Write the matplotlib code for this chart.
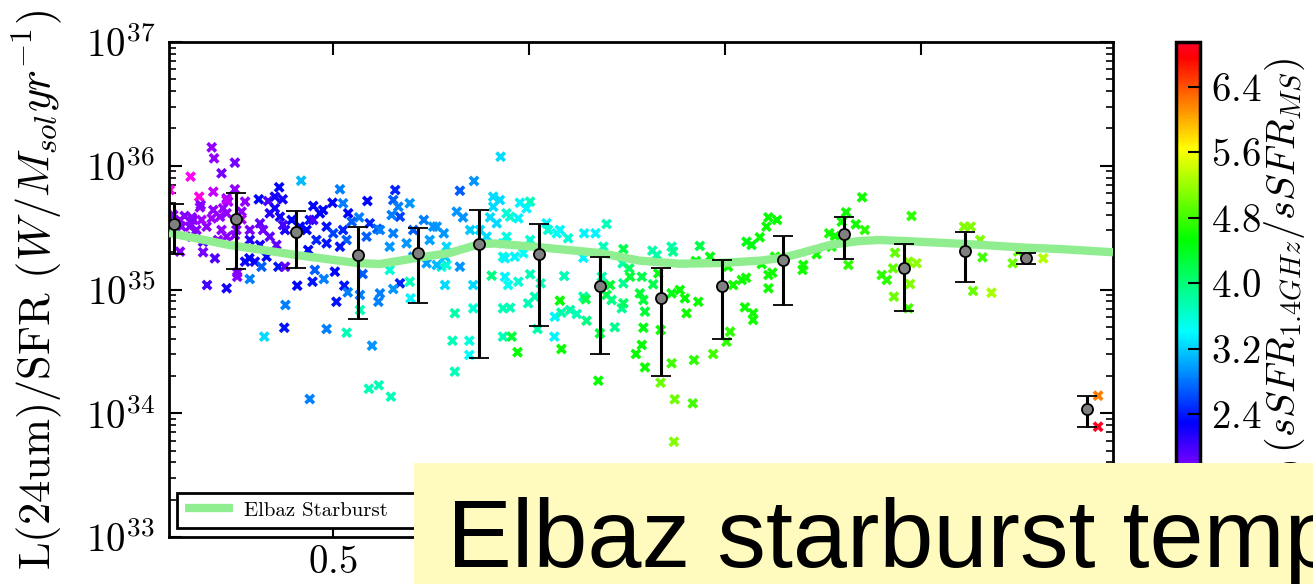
import numpy as np
import matplotlib
matplotlib.use("Agg")
import matplotlib.pyplot as plt
from matplotlib.patches import Rectangle
from matplotlib.ticker import MultipleLocator

plt.rcParams.update({
    "font.family": "serif",
    "font.serif": ["cmr10"],
    "mathtext.fontset": "cm",
    "axes.formatter.use_mathtext": True,
    "axes.unicode_minus": False,
})

# individual galaxies: redshift, log10 L(24um)/SFR, colour value
gal_z = [
    0.191, 0.197, 0.250, 0.216, 0.137, 0.084, 0.195, 0.159, 0.250, 0.229,
    0.419, 0.363, 0.518, 0.659, 0.928, 0.860, 0.824, 0.311, 0.335, 0.352,
    0.372, 0.450, 0.499, 0.475, 0.588, 0.567, 0.594, 0.613, 0.654, 0.667,
    0.696, 0.671, 0.732, 0.765, 0.783, 0.816, 0.832, 0.901, 0.909, 0.926,
    0.943, 0.790, 0.824, 0.790, 0.777, 0.786, 0.858, 0.905, 0.858, 0.811,
    0.805, 0.848, 0.848, 0.811, 0.934, 0.934, 0.696, 0.698, 0.671, 0.654,
    0.645, 0.620, 0.616, 0.576, 0.569, 0.569, 0.535, 0.600, 0.484, 0.509,
    0.529, 0.505, 0.448, 0.477, 0.409, 0.379, 0.376, 0.325, 0.288, 0.229,
    0.179, 0.256, 0.256, 0.169, 0.199, 0.110, 0.276, 0.301, 0.331, 0.318,
    0.361, 0.378, 0.437, 0.454, 0.122, 0.140, 0.161, 0.195, 0.220, 0.212,
    0.233, 0.276, 0.267, 0.229, 0.191, 0.178, 0.152, 0.135, 0.216, 0.229,
    0.207, 0.140, 0.169, 0.267, 0.254, 0.288, 0.288, 0.314, 0.322, 0.339,
    0.352, 0.365, 0.339, 0.356, 0.378, 0.395, 0.373, 0.314, 0.144, 0.110,
    0.093, 0.114, 0.250, 0.165, 0.416, 0.433, 0.441, 0.458, 0.484, 0.501,
    0.526, 0.535, 0.484, 0.518, 0.450, 0.467, 0.548, 0.586, 0.620, 0.645,
    0.654, 0.688, 0.705, 0.756, 0.747, 0.705, 0.765, 0.739, 0.786, 0.850,
    0.875, 0.892, 0.918, 0.934, 0.934, 0.909, 0.977, 1.003, 0.994, 0.973,
    0.952, 0.943, 1.003, 0.986, 0.964, 0.939, 1.003, 1.030, 1.015, 0.998,
    0.952, 0.973, 0.947, 0.939, 0.956, 0.971, 1.022, 1.045, 1.049, 1.079,
    1.100, 1.071, 1.090, 1.066, 1.065, 1.083, 1.105, 1.122, 1.079, 1.083,
    1.139, 1.145, 1.147, 1.141, 1.170, 1.198, 1.139, 1.190, 1.186, 1.207,
    1.198, 1.211, 1.181, 1.177, 1.219, 1.237, 1.241, 1.241, 1.239, 1.241,
    1.256, 1.258, 1.288, 1.283, 1.292, 1.296, 1.292, 1.288, 1.273, 1.296,
    1.315, 1.326, 1.364, 1.368, 1.317, 1.330, 1.336, 1.336, 1.364, 1.372,
    1.418, 1.370, 1.421, 1.436, 1.426, 1.364, 1.385, 1.398, 1.402, 1.432,
    1.470, 1.462, 1.508, 1.521, 1.543, 1.554, 1.551, 1.572, 1.572, 1.513,
    1.504, 1.555, 1.568, 1.589, 1.606, 1.611, 1.594, 1.611, 1.611, 1.633,
    1.628, 1.621, 1.734, 1.700, 1.698, 1.766, 1.781, 1.772, 1.798, 1.809,
    1.834, 1.857, 1.815, 1.850, 1.976, 1.934, 1.900, 1.913, 1.929, 1.931,
    1.968, 1.989, 1.972, 1.968, 2.110, 2.127, 2.151, 2.157, 2.133, 2.180,
    2.234, 2.312, 2.248, 2.452, 2.452, 0.538, 0.441, 0.592, 0.617, 0.648,
    0.163, 0.229, 0.287, 0.526, 0.539, 0.650,
]
gal_logL = [
    36.149, 36.060, 36.025, 35.939, 35.912, 35.804, 35.790, 35.750, 35.810, 35.737,
    35.879, 35.826, 35.810, 35.804, 36.073, 35.877, 35.798, 35.729, 35.715, 35.750,
    35.729, 35.675, 35.701, 35.642, 35.715, 35.583, 35.535, 35.491, 35.723, 35.669,
    35.697, 35.588, 35.562, 35.508, 35.454, 35.629, 35.583, 35.583, 35.669, 35.723,
    35.616, 35.346, 35.184, 35.198, 35.184, 35.036, 35.036, 35.112, 34.848, 34.808,
    34.586, 34.586, 34.471, 34.336, 34.848, 34.619, 35.063, 34.929, 35.050, 35.004,
    35.158, 34.969, 34.901, 35.125, 34.956, 34.834, 34.651, 34.546, 34.681, 34.901,
    35.031, 35.144, 35.063, 35.085, 35.031, 34.875, 34.691, 34.619, 35.085, 35.010,
    35.036, 35.103, 35.136, 35.301, 35.252, 35.306, 35.225, 35.225, 35.265, 35.184,
    35.184, 35.184, 35.319, 35.158, 35.594, 35.583, 35.664, 35.642, 35.656, 35.588,
    35.710, 35.710, 35.629, 35.616, 35.575, 35.508, 35.481, 35.508, 35.481, 35.427,
    35.400, 35.427, 35.386, 35.567, 35.481, 35.481, 35.400, 35.535, 35.481, 35.616,
    35.656, 35.588, 35.427, 35.360, 35.481, 35.562, 35.521, 35.360, 35.562, 35.562,
    35.602, 35.508, 35.440, 35.562, 35.508, 35.481, 35.562, 35.400, 35.508, 35.454,
    35.481, 35.400, 35.373, 35.346, 35.562, 35.616, 35.548, 35.427, 35.481, 35.346,
    35.454, 35.373, 35.481, 35.508, 35.400, 35.265, 35.198, 35.212, 35.265, 35.481,
    35.481, 35.427, 35.535, 35.373, 35.265, 35.750, 35.701, 35.710, 35.656, 35.575,
    35.588, 35.427, 35.400, 35.293, 35.265, 35.252, 35.123, 35.050, 34.942, 34.889,
    34.853, 35.063, 35.036, 35.103, 34.619, 34.493, 34.681, 35.535, 35.481, 35.481,
    35.414, 35.454, 35.109, 34.780, 34.619, 34.813, 34.834, 34.802, 34.910, 34.519,
    34.942, 34.921, 34.748, 35.454, 35.454, 35.529, 35.257, 35.346, 35.103, 35.036,
    34.956, 34.915, 34.646, 34.263, 34.695, 34.848, 34.889, 35.050, 35.212, 35.327,
    35.171, 35.103, 35.103, 34.969, 34.915, 34.821, 34.691, 34.552, 34.479, 34.371,
    35.314, 35.279, 35.346, 35.306, 35.042, 35.131, 34.673, 34.247, 34.404, 34.113,
    34.080, 33.770, 34.430, 35.352, 35.230, 34.969, 34.996, 34.929, 34.808, 34.901,
    34.479, 35.265, 35.184, 35.036, 35.077, 35.095, 34.856, 34.808, 34.754, 34.659,
    34.578, 35.386, 35.360, 35.422, 35.508, 35.583, 35.206, 35.117, 35.010, 35.562,
    35.265, 35.136, 35.285, 35.198, 35.158, 35.454, 35.432, 35.346, 35.548, 35.624,
    35.527, 35.481, 35.198, 35.745, 35.594, 35.297, 35.117, 35.077, 35.171, 34.942,
    35.225, 35.212, 35.044, 34.848, 35.508, 35.508, 35.400, 35.260, 34.988, 34.974,
    35.212, 35.252, 35.306, 34.142, 33.891, 34.977, 34.115, 34.198, 34.226, 34.134,
    35.683, 35.723, 35.252, 35.697, 35.616, 35.602,
]
gal_ratio = [
    1.66, 1.66, 1.78, 1.78, 1.15, 1.10, 1.45, 1.05, 1.66, 1.66,
    3.10, 2.30, 2.84, 2.45, 3.24, 2.95, 2.70, 2.30, 1.95, 2.20,
    2.20, 2.30, 2.30, 2.30, 2.30, 2.84, 2.45, 2.70, 2.70, 2.84,
    2.95, 2.60, 2.84, 2.95, 2.95, 2.95, 2.95, 3.24, 3.24, 3.24,
    3.60, 3.24, 2.95, 3.55, 3.60, 3.24, 3.24, 3.97, 3.60, 3.80,
    3.72, 3.55, 3.45, 3.72, 3.72, 3.72, 3.72, 3.38, 2.45, 2.95,
    3.60, 2.84, 2.84, 2.70, 2.84, 3.72, 3.72, 2.95, 2.84, 2.38,
    2.38, 2.30, 2.38, 2.84, 2.30, 2.84, 2.38, 3.24, 2.84, 2.20,
    2.00, 1.72, 1.72, 1.78, 1.95, 1.72, 2.20, 2.20, 2.30, 2.70,
    2.38, 1.87, 2.30, 2.70, 1.72, 1.72, 1.66, 1.66, 1.62, 1.66,
    1.66, 1.66, 1.70, 1.66, 1.62, 1.70, 1.72, 1.72, 1.66, 1.70,
    1.72, 1.78, 1.95, 1.55, 1.72, 1.78, 2.15, 1.87, 1.78, 2.15,
    2.20, 2.20, 1.87, 1.87, 2.20, 2.30, 2.00, 2.20, 1.72, 1.66,
    1.66, 1.72, 1.72, 1.60, 2.30, 2.30, 2.38, 2.45, 2.38, 2.60,
    2.45, 2.70, 2.38, 2.38, 2.00, 2.30, 2.70, 2.70, 2.84, 2.95,
    2.84, 2.95, 2.70, 2.95, 3.00, 2.95, 3.10, 3.00, 3.18, 3.18,
    3.24, 3.24, 3.24, 3.38, 3.55, 3.24, 3.38, 3.72, 3.38, 3.38,
    3.60, 3.55, 3.60, 3.45, 3.38, 3.38, 3.72, 3.72, 3.72, 3.72,
    3.72, 3.60, 3.45, 3.38, 4.30, 4.55, 3.80, 3.38, 3.60, 3.38,
    3.60, 3.45, 3.72, 3.38, 3.38, 3.80, 3.80, 3.72, 4.55, 4.55,
    3.80, 4.20, 3.97, 3.38, 3.38, 3.72, 3.38, 3.72, 3.80, 4.30,
    4.20, 3.97, 4.30, 4.55, 3.90, 3.90, 4.10, 3.90, 3.80, 4.20,
    4.10, 4.30, 4.20, 4.30, 4.30, 4.30, 4.45, 4.55, 4.55, 4.60,
    3.80, 3.80, 3.80, 3.90, 4.20, 4.45, 4.60, 5.00, 4.80, 5.00,
    4.80, 5.10, 4.72, 4.20, 4.45, 4.45, 4.55, 4.55, 4.60, 4.55,
    4.80, 4.45, 4.60, 4.60, 4.60, 4.60, 4.60, 4.60, 4.60, 4.72,
    4.72, 4.45, 4.45, 4.55, 4.55, 4.55, 4.55, 4.60, 4.60, 4.55,
    4.60, 4.60, 4.60, 4.60, 4.60, 4.60, 4.60, 4.60, 4.60, 4.60,
    4.60, 4.72, 4.72, 4.60, 4.72, 4.95, 4.72, 4.72, 4.95, 5.00,
    5.10, 5.15, 5.10, 4.80, 5.10, 5.10, 5.10, 4.80, 5.00, 5.25,
    5.00, 5.30, 4.95, 6.20, 6.90, 2.84, 2.84, 3.72, 3.72, 3.72,
    1.72, 1.45, 2.30, 2.84, 2.30, 2.84,
]

# binned means with standard deviation (units of 1e35 W/Msol/yr)
bin_z = [0.095, 0.253, 0.407, 0.563, 0.718, 0.872, 1.026, 1.182,
         1.337, 1.492, 1.647, 1.803, 1.957, 2.113, 2.267, 2.423]
bin_mean = [3.40, 3.72, 2.90, 1.90, 1.97, 2.34, 1.94, 1.07,
            0.849, 1.07, 1.74, 2.82, 1.50, 2.04, 1.80, 0.108]
bin_err = [1.48, 2.25, 1.42, 1.32, 1.19, 2.06, 1.43, 0.77,
           0.65, 0.67, 0.99, 1.05, 0.83, 0.89, 0.18, 0.0305]

# Elbaz starburst template track
elbaz_z = [0.082, 0.235, 0.406, 0.561, 0.620, 0.717, 0.798, 0.872, 0.913,
           1.028, 1.181, 1.283, 1.385, 1.487, 1.589, 1.648, 1.691, 1.768,
           1.844, 1.895, 1.957, 2.112, 2.268, 2.355, 2.490]
elbaz_logL = [35.457, 35.360, 35.279, 35.214, 35.206, 35.257, 35.295, 35.365,
              35.372, 35.341, 35.295, 35.233, 35.208, 35.214, 35.233, 35.257,
              35.292, 35.360, 35.392, 35.400, 35.392, 35.368, 35.338, 35.327,
              35.301]

cbar_ticks = [1.6, 2.4, 3.2, 4.0, 4.8, 5.6, 6.4]

W, H = 1313, 584
fig = plt.figure(figsize=(W / 100, H / 100), dpi=100)
ax = fig.add_axes([169 / W, 47 / H, 944 / W, 495 / H])
cax = fig.add_axes([1176 / W, 47 / H, 24 / W, 495 / H])

sc = ax.scatter(gal_z, 10 ** np.array(gal_logL), c=gal_ratio, cmap="gist_rainbow_r",
                vmin=0.9, vmax=6.95, marker="x", s=36, linewidths=2.6, zorder=2)
ax.plot(elbaz_z, 10 ** np.array(elbaz_logL), color="#90ee90", lw=6,
        label="Elbaz Starburst", zorder=3, solid_capstyle="butt")
ax.errorbar(bin_z, np.array(bin_mean) * 1e35, yerr=np.array(bin_err) * 1e35,
            fmt="o", color="black", mfc="#808080", mec="black", mew=1.3, ms=8,
            elinewidth=2.2, capsize=7, capthick=2.2, zorder=4)

ax.set_yscale("log")
ax.set_ylim(1e33, 1e37)
ax.set_xlim(0.082, 2.49)
ax.xaxis.set_major_locator(MultipleLocator(0.5))
ax.tick_params(which="both", direction="in", top=True, right=True)
ax.tick_params(which="major", length=9.5, width=1.5, labelsize=28)
ax.tick_params(which="minor", length=4.8, width=1.2)
ax.tick_params(axis="y", pad=10)
ax.tick_params(axis="x", pad=6)
for sp in ax.spines.values():
    sp.set_linewidth(2)

ax.set_ylabel(r"L(24um)/SFR $(W/M_{sol}yr^{-1})$", fontsize=32)
ax.yaxis.set_label_coords(-0.111, 0.5)

leg = ax.legend(loc="lower left", bbox_to_anchor=(0.0085, 0.018, 0.3, 0.1),
                mode="expand", fontsize=15, handlelength=2.3, handletextpad=0.5,
                fancybox=False, framealpha=1, borderaxespad=0)
leg.get_frame().set_edgecolor("black")
leg.get_frame().set_linewidth(2)

cb = fig.colorbar(sc, cax=cax, ticks=cbar_ticks)
cb.outline.set_linewidth(2.5)
cax.tick_params(direction="in", length=9, width=1.5, labelsize=28, pad=8)
cb.set_label(r"$\log_{10}(sSFR_{1.4GHz}/sSFR_{MS})$", fontsize=29, labelpad=1)
cax.yaxis.label.set_y(0.479)

# caption banner laid over the lower part of the figure
fig.patches.append(Rectangle((414 / W, 0), 1 - 414 / W, 121 / H,
                             transform=fig.transFigure, facecolor="#fffabd",
                             edgecolor="none", zorder=10))
fig.text(447 / W, 17 / H, "Elbaz starburst template", fontsize=70,
         family="Liberation Sans", va="baseline", ha="left", zorder=11)

fig.savefig("out.png", dpi=100)
